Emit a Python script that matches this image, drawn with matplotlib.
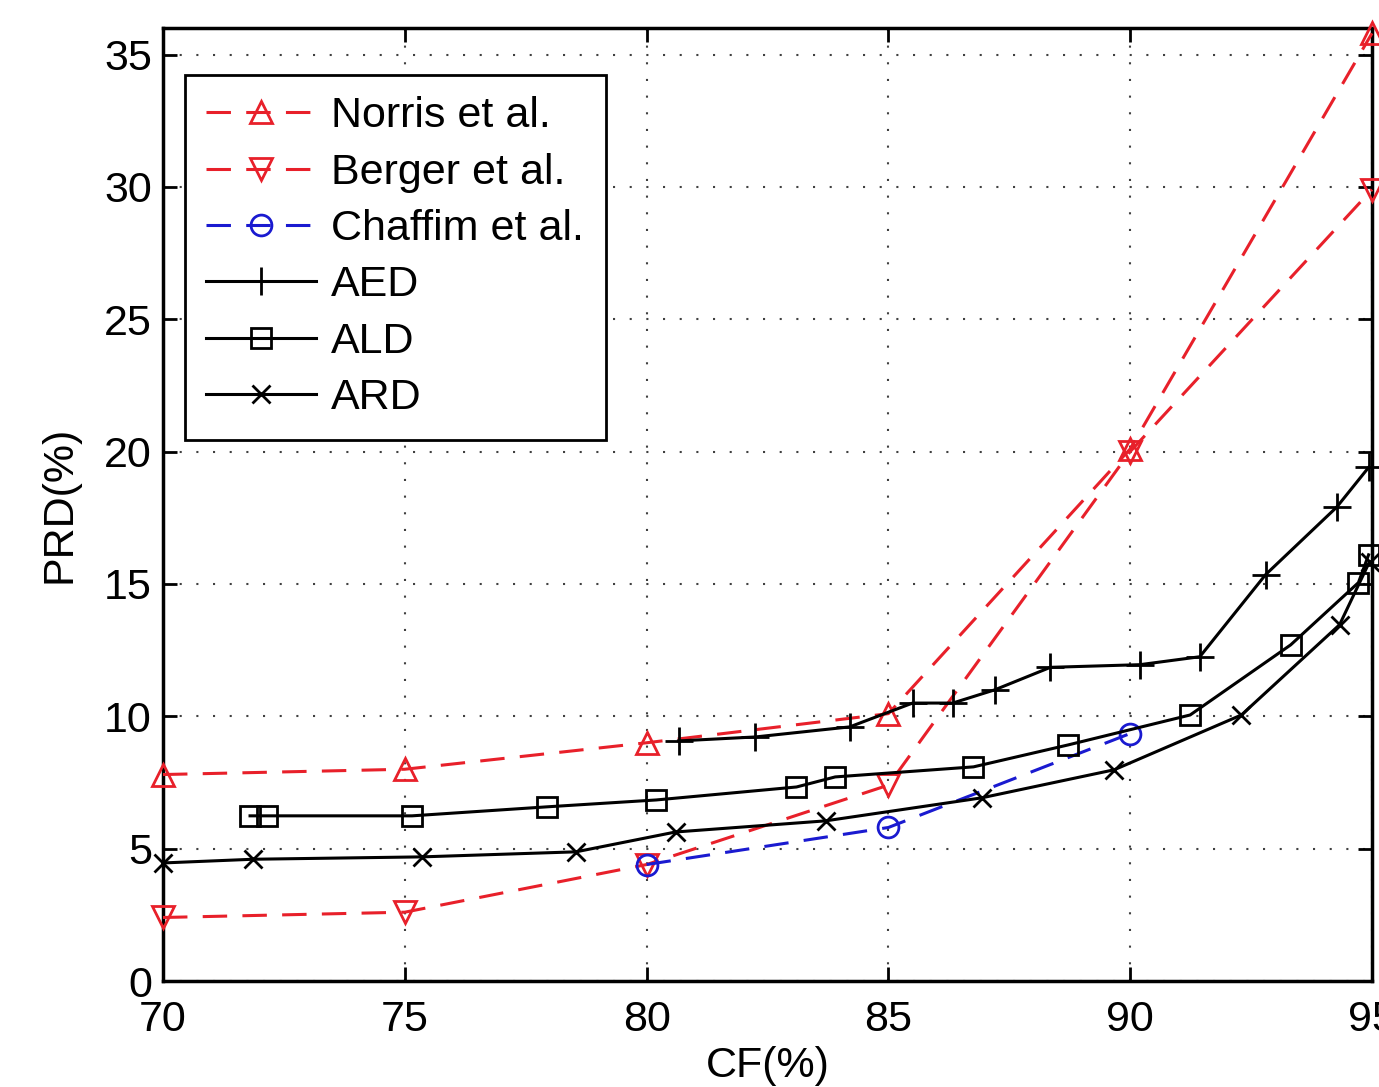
import matplotlib
matplotlib.use("Agg")
import matplotlib.pyplot as plt

plt.rcParams['font.family'] = ['Liberation Sans', 'DejaVu Sans']

norris_cf = [70, 75, 80, 85, 90, 95]
norris_prd = [7.8, 8.0, 9.0, 10.1, 20.1, 35.8]
berger_cf = [70, 75, 80, 85, 90, 95]
berger_prd = [2.4, 2.6, 4.4, 7.4, 20.0, 29.9]
chaffim_cf = [80, 85, 90]
chaffim_prd = [4.4, 5.8, 9.35]
aed_cf = [80.66, 82.25, 84.2, 85.5, 86.33, 87.2, 88.35, 90.2, 91.44, 92.8, 94.27, 94.93]
aed_prd = [9.07, 9.22, 9.6, 10.5, 10.5, 11.0, 11.85, 11.95, 12.25, 15.35, 17.9, 19.4]
ald_cf = [71.8, 72.16, 75.15, 77.94, 80.2, 83.1, 83.9, 86.76, 88.72, 91.24, 93.32, 94.72, 94.93]
ald_prd = [6.24, 6.24, 6.24, 6.58, 6.84, 7.33, 7.71, 8.09, 8.92, 10.05, 12.7, 15.05, 16.1]
ard_cf = [70, 71.86, 75.36, 78.54, 80.6, 83.7, 86.93, 89.67, 92.3, 94.33, 94.95]
ard_prd = [4.46, 4.6, 4.69, 4.88, 5.63, 6.05, 6.92, 7.98, 10.05, 13.46, 15.84]

xticks = [70, 75, 80, 85, 90, 95]
yticks = [0, 5, 10, 15, 20, 25, 30, 35]

fig = plt.figure(figsize=(13.79, 10.87), dpi=100)
ax = fig.add_axes([0.1182, 0.0975, 0.9949 - 0.1182, 0.9742 - 0.0975])

red = '#e8202a'
blue = '#1a1ad0'
dash = (8, 5)
lw = 2.2
mew = 2.0

ax.plot(norris_cf, norris_prd, color=red, ls='--', dashes=dash, lw=lw, marker='^', ms=16,
        mfc='none', mec=red, mew=mew, label='Norris et al.', clip_on=False, zorder=3)
ax.plot(berger_cf, berger_prd, color=red, ls='--', dashes=dash, lw=lw, marker='v', ms=16,
        mfc='none', mec=red, mew=mew, label='Berger et al.', clip_on=False, zorder=3)
ax.plot(chaffim_cf, chaffim_prd, color=blue, ls='--', dashes=dash, lw=lw, marker='o', ms=15,
        mfc='none', mec=blue, mew=mew, label='Chaffim et al.', clip_on=False, zorder=3)
ax.plot(aed_cf, aed_prd, color='black', lw=lw, marker='+', ms=20, mew=mew,
        label='AED', clip_on=False, zorder=3)
ax.plot(ald_cf, ald_prd, color='black', lw=lw, marker='s', ms=14, mfc='none', mew=mew,
        label='ALD', clip_on=False, zorder=3)
ax.plot(ard_cf, ard_prd, color='black', lw=lw, marker='x', ms=13, mew=mew,
        label='ARD', clip_on=False, zorder=3)

ax.set_xlim(70, 95)
ax.set_ylim(0, 36)
ax.set_xticks(xticks)
ax.set_yticks(yticks)
ax.set_xticklabels([str(t) for t in xticks])
ax.set_yticklabels([str(t) for t in yticks])
ax.tick_params(direction='in', top=True, right=True, length=10, width=2,
               labelsize=31)
ax.tick_params(axis='x', pad=14)
ax.tick_params(axis='y', pad=8)
ax.grid(True, color='black', linestyle=(0, (1, 7)), lw=1.5, alpha=0.75)
for s in ax.spines.values():
    s.set_linewidth(2.5)

ax.set_xlabel('CF(%)', fontsize=31, labelpad=4)
ax.set_ylabel('PRD(%)', fontsize=31, labelpad=18)

leg = ax.legend(loc='upper left', bbox_to_anchor=(0.018, 0.951), borderaxespad=0,
                fontsize=31, handlelength=2.55, labelspacing=0.38, handletextpad=0.35,
                borderpad=0.5, fancybox=False, framealpha=1, edgecolor='black')
leg.get_frame().set_linewidth(2)

fig.savefig('out.png', dpi=100)
